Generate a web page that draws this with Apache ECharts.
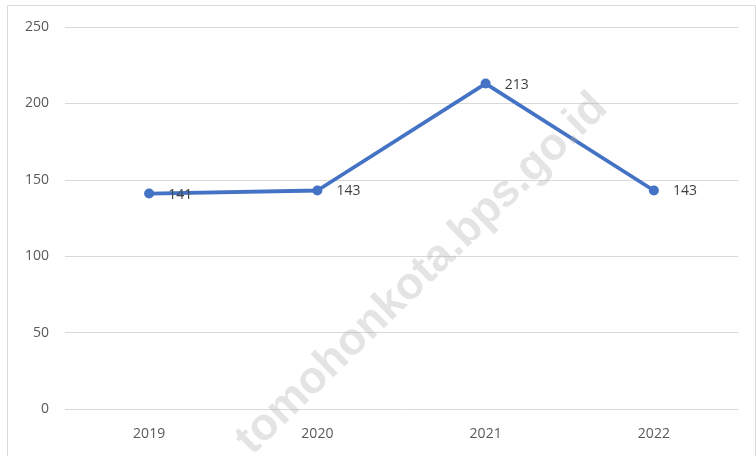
<!DOCTYPE html>
<html><head><meta charset="utf-8">
<script src="https://cdn.jsdelivr.net/npm/echarts@6/dist/echarts.min.js"></script>
<style>html,body{margin:0;padding:0;background:#fff}#c{width:756px;height:456px}</style>
</head><body><div id="c"></div>
<script>
const categories = ['2019', '2020', '2021', '2022'];
const values = [141, 143, 213, 143];
const yTicks = [0, 50, 100, 150, 200, 250];

const chart = echarts.init(document.getElementById('c'), null, {renderer: 'canvas'});
chart.setOption({
  animation: false,
  backgroundColor: '#fff',
  graphic: [
    {type: 'rect', left: 5, top: 3, shape: {width: 748, height: 460}, style: {fill: 'none', stroke: '#d9d9d9', lineWidth: 1}, z: 0},
    {type: 'text', x: 422, y: 274, rotation: 0.77, z: 100,
     style: {text: 'tomohonkota.bps.go.id', font: 'bold 45px "Liberation Sans", Arial', fill: 'rgba(170,170,170,0.32)', align: 'center', verticalAlign: 'middle'}}
  ],
  grid: {left: 65, right: 18, top: 27, bottom: 47},
  xAxis: {
    type: 'category', data: categories, boundaryGap: true,
    axisLine: {show: false}, axisTick: {show: false},
    axisLabel: {color: '#595959', fontSize: 14, fontFamily: 'Open Sans', margin: 18}
  },
  yAxis: {
    type: 'value', min: yTicks[0], max: yTicks[yTicks.length - 1], interval: 50,
    axisLine: {show: false}, axisTick: {show: false},
    axisLabel: {color: '#595959', fontSize: 14, fontFamily: 'Open Sans', margin: 16},
    splitLine: {lineStyle: {color: '#d9d9d9', width: 1}}
  },
  series: [{
    type: 'line', data: values,
    lineStyle: {color: '#4472C4', width: 3.8},
    itemStyle: {color: '#4472C4'},
    symbol: 'circle', symbolSize: 10,
    label: {show: true, position: 'right', distance: 14, color: '#404040', fontSize: 14, fontFamily: 'Open Sans', offset: [0, 1]}
  }]
});
</script></body></html>
